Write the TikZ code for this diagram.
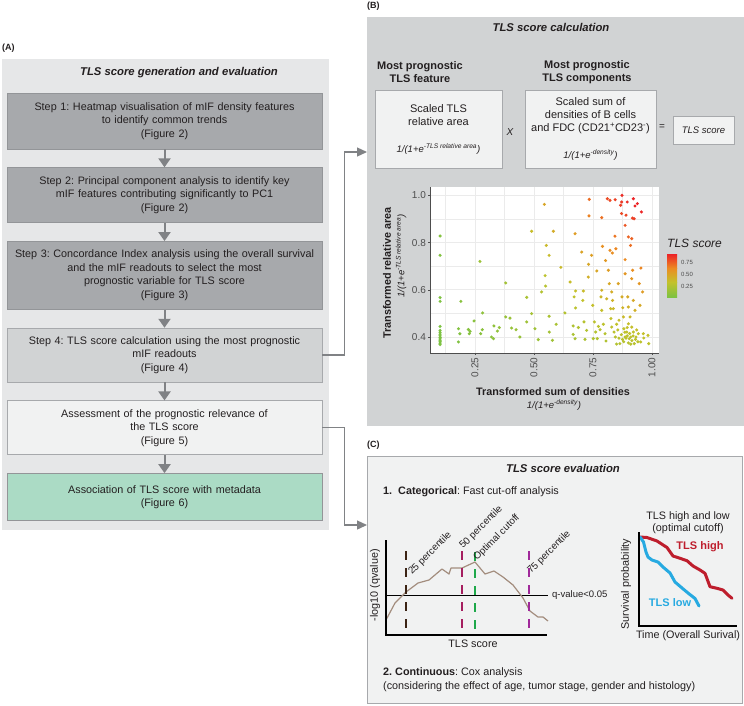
\documentclass[tikz,border=0pt]{standalone}
\usepackage{fontspec}
\setmainfont{Liberation Sans}
\usetikzlibrary{positioning, arrows.meta}
\definecolor{txtdark}{HTML}{231F20}
\definecolor{panelAbg}{HTML}{E6E7E8}
\definecolor{panelBbg}{HTML}{D1D3D4}
\definecolor{panelCbg}{HTML}{F1F2F2}
\definecolor{darkstep}{HTML}{A7A9AC}
\definecolor{midstep}{HTML}{D1D3D4}
\definecolor{lightstep}{HTML}{F1F2F2}
\definecolor{greenstep}{HTML}{ABDBC5}
\definecolor{stepedge}{HTML}{939598}
\definecolor{boxedge}{HTML}{A7A9AC}
\definecolor{arrgray}{HTML}{808285}
\definecolor{tickgray}{HTML}{4D4D4D}
\definecolor{gridc}{HTML}{EBEBEB}
\definecolor{sred}{HTML}{EC2227}
\definecolor{sorange}{HTML}{EC8B22}
\definecolor{solive}{HTML}{C3C22B}
\definecolor{sgreen}{HTML}{7DC242}
\definecolor{pbrown}{HTML}{3C2415}
\definecolor{pmagenta}{HTML}{A51E5F}
\definecolor{pgreen}{HTML}{1EA84A}
\definecolor{ppurple}{HTML}{A0299A}
\definecolor{curvetan}{HTML}{A38D7E}
\definecolor{hired}{HTML}{BE1E2D}
\definecolor{lowblue}{HTML}{27AAE1}

\begin{document}
\frenchspacing
\begin{tikzpicture}[
    x=1pt, y=-1pt,
    node distance=18pt,
    text=txtdark,
    panel/.style={inner sep=0pt, outer sep=0pt},
    stepbox/.style={draw=stepedge, line width=0.7pt, minimum width=315pt, text width=307pt,
                    align=center, inner sep=0pt, font=\fontsize{10.8}{13.5}\selectfont},
    ptitle/.style={font=\fontsize{11.3}{13}\selectfont\bfseries\itshape},
    plabel/.style={font=\fontsize{9}{10}\selectfont\bfseries, anchor=west, inner sep=0pt},
    steparr/.style={draw=arrgray, line width=2pt, -{Triangle[length=9pt,width=12pt]}},
    conn/.style={draw=arrgray, line width=1.3pt, -{Triangle[length=10pt,width=9pt]}},
    fbox/.style={draw=boxedge, fill=lightstep, line width=0.6pt, align=center, inner sep=0pt,
                 font=\fontsize{11}{13}\selectfont},
    hdr/.style={font=\fontsize{11}{13}\selectfont\bfseries, align=center},
    ticklbl/.style={font=\fontsize{10}{11}\selectfont, text=tickgray, inner sep=1pt},
    axtitle/.style={font=\fontsize{10.8}{12.5}\selectfont\bfseries, align=center},
    cutline/.style={line width=2pt, dash pattern=on 9pt off 8pt},
    pct/.style={font=\fontsize{9.8}{10}\selectfont, rotate=45, anchor=base west, inner sep=0pt},
    km/.style={line width=3pt, line join=round, line cap=round},
    small/.style={font=\fontsize{10.8}{12}\selectfont, align=center},
  ]

  \fill[white] (0,0) rectangle (744,705);
  \useasboundingbox (0,0) rectangle (744,705);

  % ── (A) TLS score generation and evaluation ──
  \node[plabel] (labA) at (2,48) {(A)};
  \node[panel, fill=panelAbg, minimum width=327pt, minimum height=471pt] (panelA) at (165.5,294.5) {};
  \node[ptitle] (titleA) at (179,73) {TLS score generation and evaluation};

  \node[stepbox, fill=darkstep, minimum height=56pt] (s1) at (164.5,121)
    {Step 1: Heatmap visualisation of mIF density features\\to identify common trends\\(Figure 2)};
  \node[stepbox, fill=darkstep, minimum height=55pt, below=of s1] (s2)
    {Step 2: Principal component analysis to identify key\\mIF features contributing significantly to PC1\\(Figure 2)};
  \node[stepbox, fill=darkstep, minimum height=68pt, below=of s2] (s3)
    {Step 3: Concordance Index analysis using the overall survival\\and the mIF readouts to select the most\\prognostic variable for TLS score\\(Figure 3)};
  \node[stepbox, fill=midstep, draw=boxedge, minimum height=54pt, below=of s3] (s4)
    {Step 4: TLS score calculation using the most prognostic\\mIF readouts\\(Figure 4)};
  \node[stepbox, fill=lightstep, draw=boxedge, minimum height=54pt, below=of s4] (s5)
    {Assessment of the prognostic relevance of\\the TLS score\\(Figure 5)};
  \node[stepbox, fill=greenstep, minimum height=47pt, below=of s5] (s6)
    {Association of TLS score with metadata\\(Figure 6)};

  \foreach \a/\b in {s1/s2, s2/s3, s3/s4, s4/s5, s5/s6}
    \draw[steparr] (\a.south) -- (\b.north);

  % ── (B) TLS score calculation ──
  \node[plabel] (labB) at (367,6) {(B)};
  \node[panel, fill=panelBbg, minimum width=377pt, minimum height=409pt] (panelB) at (555.5,221.5) {};
  \node[ptitle] (titleB) at (551,27) {TLS score calculation};

  \node[hdr] (hfeat) at (420,72.5) {Most prognostic\\TLS feature};
  \node[hdr] (hcomp) at (587,72.5) {Most prognostic\\TLS components};

  \node[fbox, minimum width=127pt, minimum height=78pt] (feat) at (438.5,129)
    {Scaled TLS\\relative area\\[14pt]{\fontsize{9.5}{10}\selectfont\itshape 1/(1+e\textsuperscript{-TLS relative area})}};
  \node[font=\fontsize{10}{12}\selectfont\itshape] (times) at (510,132) {X};
  \node[fbox, minimum width=131pt, minimum height=78pt] (comp) at (590.5,129)
    {Scaled sum of\\densities of B cells\\and FDC (CD21\textsuperscript{+}CD23\textsuperscript{-})\\[14pt]{\fontsize{9.5}{10}\selectfont\itshape 1/(1+e\textsuperscript{-density})}};
  \node[font=\fontsize{10}{12}\selectfont] (equals) at (662,127) {=};
  \node[fbox, minimum width=61pt, minimum height=28pt, font=\fontsize{9.5}{11}\selectfont\itshape] (score) at (703.5,130) {TLS score};

  % scatter plot (data coordinates)
  \begin{scope}[shift={(416,431.4)}, x=236pt, y=236pt]
    \fill[white] (0.0593,0.3322) rectangle (1.0297,1.0356);
    \foreach \v in {0.125,0.375,0.625,0.875}
      \draw[gridc, line width=0.3pt] (\v,0.3322) -- (\v,1.0356);
    \foreach \v in {0.5,0.7,0.9}
      \draw[gridc, line width=0.3pt] (0.0593,\v) -- (1.0297,\v);
    \foreach \v in {0.25,0.5,0.75,1.0}
      \draw[gridc, line width=0.7pt] (\v,0.3322) -- (\v,1.0356);
    \foreach \v in {0.4,0.6,0.8,1.0}
      \draw[gridc, line width=0.7pt] (0.0593,\v) -- (1.0297,\v);
    \draw[tickgray, line width=0.8pt] (0.0593,1.0356) -- (0.0593,0.3322) -- (1.0297,0.3322);
    \foreach \v/\t in {0.25/0.25, 0.5/0.50, 0.75/0.75, 1.0/1.00} {
      \draw[tickgray, line width=0.6pt] (\v,0.3322) -- (\v,0.322);
      \node[ticklbl, rotate=90, anchor=east] at (\v,0.318) {\t};
    }
    \foreach \v in {0.4,0.6,0.8,1.0} {
      \draw[tickgray, line width=0.6pt] (0.0593,\v) -- (0.0493,\v);
      \node[ticklbl, anchor=east] at (0.047,\v) {\v};
    }
    \foreach \px/\py in {.102/.828,.102/.746,.102/.567,.102/.551,.102/.445,.102/.428,.102/.42,.102/.412,
        .102/.405,.102/.398,.102/.392,.102/.386,.102/.38,.102/.374,.102/.368,
        .18/.435,.186/.414,.18/.379,.19/.551,.222/.432,.229/.424,.226/.414,.246/.468,.271/.72,.274/.414,
        .281/.431,.282/.502,.32/.40,.328/.393,.33/.447,.345/.425,.353/.44,.38/.629,.38/.485,.398/.48,
        .405/.438,.424/.431,.44/.40,.469/.464,.469/.568,.49/.499,.49/.848,.504/.435,.518/.389,.532/.591,
        .544/.962,.547/.66,.549/.616,.552/.788,.564/.746,.564/.488,.565/.421,.578/.386,.582/.848,.594/.454,
        .614/.695,.631/.502,.653/.633,.666/.447,.666/.411,.67/.57,.674/.838,.676/.595,.676/.523,.674/.393,
        .688/.44,.702/.76,.707/.555,.709/.595,.712/.464,.716/.39,.723/.428,.73/.654,.731/.708,.733/.913,
        .734/.983,.744/.746,.749/.534,.751/.393,.756/.464,.761/.421,.766/.68,.768/.393,.773/.445,.78/.431,
        .784/.57,.787/.513,.787/.598,.787/.906,.79/.784,.794/.454,.801/.414,.805/.383,.803/.724,.808/.562,
        .811/.986,.815/.683,.819/.626,.822/.979,.822/.767,.825/.52,.826/.478,.829/.591,.829/.442,.832/.756,
        .833/.555,.836/.52,.839/.421,.843/.827,.844/.982,.847/.774,.85/.454,.857/.626,.86/.471,.864/.372,
        .867/.958,.871/.972,.873/1.0,.871/.923,.873/.57,.876/.524,.879/.485,.881/.435,.886/.40,.886/.873,
        .886/.728,.886/.668,.89/.916,.893/.421,.895/.972,.897/.57,.9/.824,.9/.527,.9/.456,.904/.393,
        .907/.485,.909/.788,.914/.817,.914/.647,.914/.442,.917/.904,.918/.683,.921/.986,.921/.555,.921/.421,
        .924/.901,.925/.372,.928/.955,.928/.513,.932/.40,.938/.965,.942/.414,.946/.626,.949/.534,.952/.379,
        .953/.692,.955/.93,.96/.591,.963/.414,.965/.396,.983/.407,.986/.372,
        .87/.41,.875/.39,.88/.38,.885/.42,.89/.395,.895/.405,.9/.375,.905/.415,.91/.40,.915/.385,.92/.405,
        .93/.39,.935/.43,.94/.38,.895/.44,.86/.395,.855/.43,.845/.40,.85/.37,.91/.37} {
      \pgfmathsetmacro\t{min(1,max(0,(\px*\py-0.05)/0.85))}
      \pgfmathtruncatemacro\pone{min(100,\t*250)}
      \pgfmathtruncatemacro\ptwo{min(100,max(0,(\t-0.4)*333))}
      \pgfmathtruncatemacro\pthree{min(100,max(0,(\t-0.7)*333))}
      \fill[sred!\pthree!sorange!\ptwo!solive!\pone!sgreen] (\px,\py) circle[radius=1.7pt];
    }
  \end{scope}

  \node[axtitle, rotate=90] (ytitle) at (387,273) {Transformed relative area};
  \node[font=\fontsize{9.5}{11}\selectfont\itshape, rotate=90] (yform) at (401,256) {1/(1+e\textsuperscript{-TLS relative area})};
  \node[axtitle] (xtitle) at (553,392) {Transformed sum of densities};
  \node[font=\fontsize{9.5}{11}\selectfont\itshape] (xform) at (554,405) {1/(1+e\textsuperscript{-density})};

  % legend
  \node[font=\fontsize{12}{14}\selectfont\itshape, anchor=west, inner sep=0pt] (legtitle) at (667,243) {TLS score};
  \shade[top color=sred, bottom color=sorange] (667,254) rectangle (677,268);
  \shade[top color=sorange, bottom color=solive] (667,268) rectangle (677,282);
  \shade[top color=solive, bottom color=sgreen] (667,282) rectangle (677,297);
  \foreach \yy/\t in {262/0.75, 274/0.50, 286/0.25}
    \node[font=\fontsize{6}{7}\selectfont, text=tickgray, anchor=west, inner sep=0pt] at (681,\yy) {\t};

  % ── (C) TLS score evaluation ──
  \node[plabel] (labC) at (367,445.5) {(C)};
  \node[panel, fill=panelCbg, draw=boxedge, line width=0.8pt, minimum width=375pt, minimum height=247pt] (panelC) at (554.5,579.5) {};
  \node[ptitle] (titleC) at (563,468) {TLS score evaluation};
  \node[anchor=west, font=\fontsize{10.8}{12}\selectfont, inner sep=0pt] (cat) at (383,492)
    {\textbf{1.\ \ Categorical}: Fast cut-off analysis};

  % cut-off plot
  \draw[line width=0.6pt] (386,595) -- (548,595);
  \node[anchor=west, font=\fontsize{9.5}{10}\selectfont, inner sep=0pt] (qval) at (552,595) {q-value<0.05};
  \draw[curvetan, line width=1.2pt, line join=round]
    (386,620) -- (395,603) -- (406,592) -- (418,583) -- (429,580) -- (442,569) -- (449,574)
    -- (451,568) -- (462,568) -- (475,562) -- (485,574) -- (494,571) -- (503,577) -- (513,585)
    -- (523,598) -- (530,611) -- (538,617) -- (543,617) -- (548,621);
  \draw[cutline, pbrown] (406,551) -- (406,635);
  \draw[cutline, pmagenta] (462,551) -- (462,635);
  \draw[cutline, pgreen] (475,552) -- (475,635);
  \draw[cutline, ppurple] (529,551) -- (529,635);
  \draw[line width=2pt] (386,540) -- (386,635) -- (547,635);
  \node[pct] (p25) at (412,575) {25 percentile};
  \node[pct] (p50) at (463,549) {50 percentile};
  \node[pct] (popt) at (477,561) {Optimal cutoff};
  \node[pct] (p75) at (531,574) {75 percentile};
  \node[small, rotate=90] (ylab) at (375,585) {-log10 (qvalue)};
  \node[small] (xlab) at (473,644) {TLS score};

  % survival plot
  \node[small] (kmtitle) at (688,523) {TLS high and low\\(optimal cutoff)};
  \draw[km, hired] (640,537) -- (647,537.5) -- (657,541) -- (667,547.5) -- (673,556) -- (680,558.3)
    -- (687,560.7) -- (693,566) -- (700,570) -- (705,573.3) -- (710,586.7) -- (717,588.3)
    -- (723,590) -- (728,595) -- (732,598.3);
  \draw[km, lowblue] (640,537) -- (643.5,542) -- (646,552) -- (648,557) -- (652,560) -- (658,562)
    -- (663,567) -- (670,573) -- (675,582) -- (682,588) -- (688,593) -- (695,598.5) -- (699,606);
  \draw[line width=2pt] (639,532) -- (639,626) -- (737,626);
  \node[font=\fontsize{11}{13}\selectfont\bfseries, text=hired] (hilab) at (700,547) {TLS high};
  \node[font=\fontsize{11}{13}\selectfont\bfseries, text=lowblue] (lolab) at (670,603) {TLS low};
  \node[small, rotate=90] (survlab) at (626,584) {Survival probability};
  \node[small] (timelab) at (688,636) {Time (Overall Surival)};

  \node[anchor=north west, align=left, font=\fontsize{10.8}{14}\selectfont, inner sep=0pt] (cont) at (383,667)
    {\textbf{2. Continuous}: Cox analysis\\(considering the effect of age, tumor stage, gender and histology)};

  % ── Connectors ──
  \coordinate (intoB) at (367,152);
  \coordinate (intoC) at (367,525);
  \draw[conn] (s4.east) -- ++(22,0) |- (intoB);
  \draw[conn] (s5.east) -- ++(22,0) |- (intoC);

\end{tikzpicture}
\end{document}
